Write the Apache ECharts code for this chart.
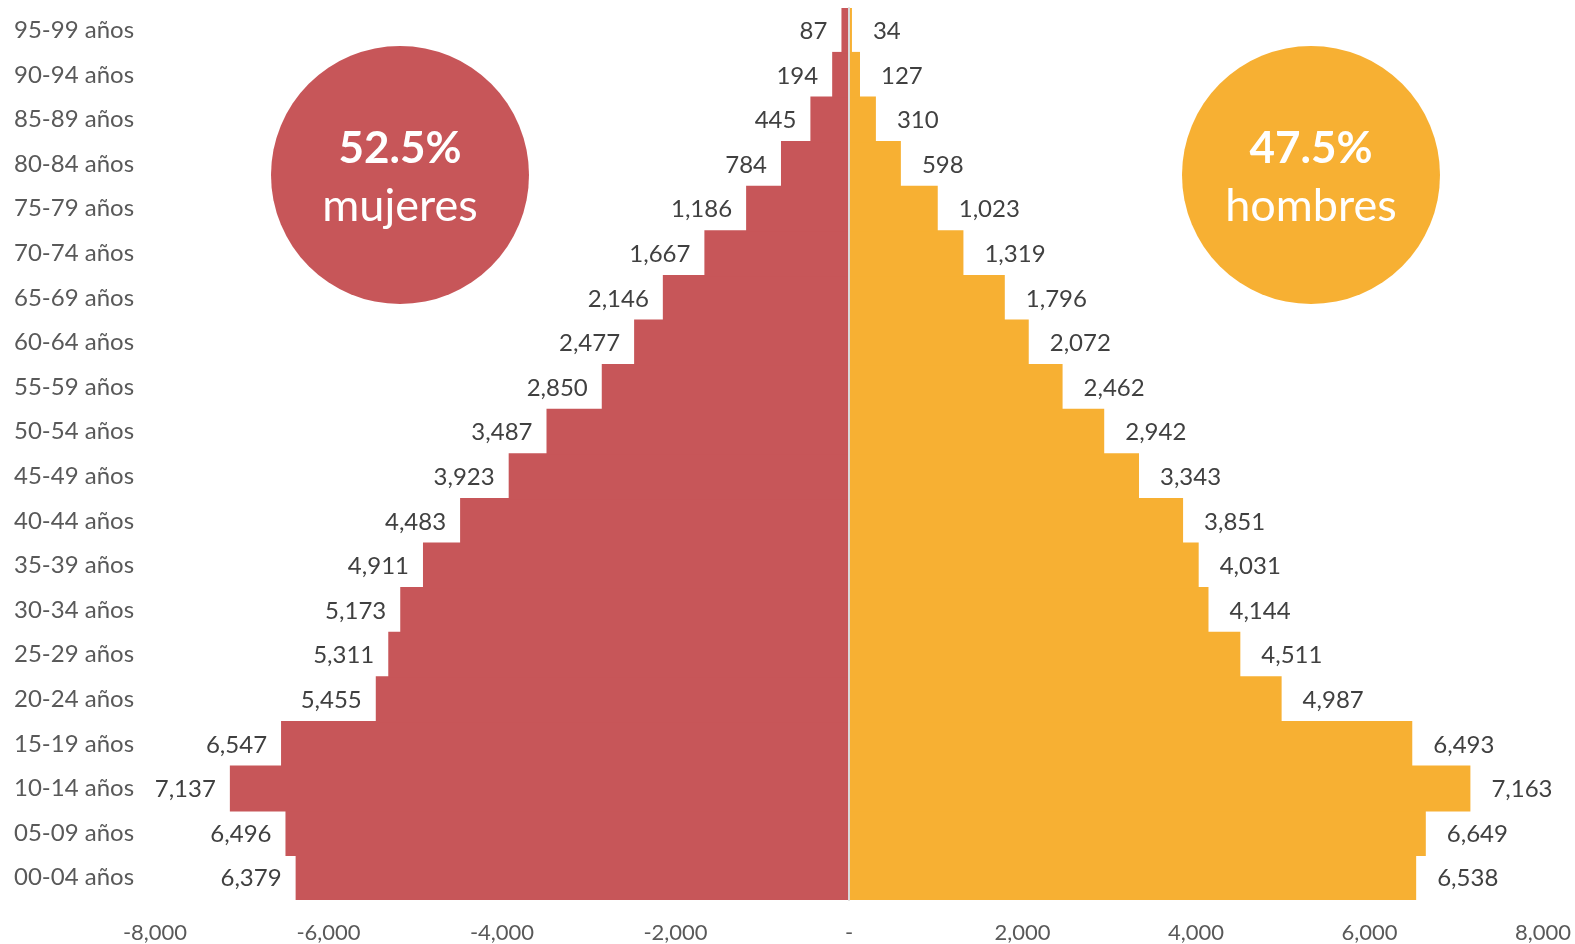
<!DOCTYPE html>
<html>
<head>
<meta charset="utf-8">
<script src="https://cdn.jsdelivr.net/npm/echarts@6/dist/echarts.min.js"></script>
<style>
  html, body { margin: 0; padding: 0; background: #fff; }
  #pyramid { width: 1575px; height: 944px; }
</style>
</head>
<body>
<div id="pyramid"></div>
<script>
// grupos de edad, de abajo hacia arriba
var ageGroups = ['00-04 años', '05-09 años', '10-14 años', '15-19 años', '20-24 años',
  '25-29 años', '30-34 años', '35-39 años', '40-44 años', '45-49 años',
  '50-54 años', '55-59 años', '60-64 años', '65-69 años', '70-74 años',
  '75-79 años', '80-84 años', '85-89 años', '90-94 años', '95-99 años'];
var mujeres = [6379, 6496, 7137, 6547, 5455, 5311, 5173, 4911, 4483, 3923,
  3487, 2850, 2477, 2146, 1667, 1186, 784, 445, 194, 87];
var hombres = [6538, 6649, 7163, 6493, 4987, 4511, 4144, 4031, 3851, 3343,
  2942, 2462, 2072, 1796, 1319, 1023, 598, 310, 127, 34];
var shareLabels = ['52.5%', '47.5%'];
var shareNames = ['mujeres', 'hombres'];

var red = '#C75659';
var orange = '#F7B033';
var font = 'Lato';

function fmt(v) {
  v = Math.abs(v);
  if (v === 0) return '-';
  return v.toString().replace(/\B(?=(\d{3})+(?!\d))/g, ',');
}

var chart = echarts.init(document.getElementById('pyramid'));

function bubble(cx, label, name, color) {
  return {
    type: 'group',
    children: [
      { type: 'circle', shape: { cx: cx, cy: 175, r: 129 }, style: { fill: color } },
      { type: 'text', x: cx, y: 149, style: { text: label, fill: '#fff', font: 'bold 44px ' + font, align: 'center', verticalAlign: 'middle' } },
      { type: 'text', x: cx, y: 206, style: { text: name, fill: '#fff', font: '45px ' + font, align: 'center', verticalAlign: 'middle' } }
    ]
  };
}

var option = {
  backgroundColor: '#fff',
  animation: false,
  textStyle: { fontFamily: font },
  grid: { left: 155, right: 32, top: 8, bottom: 44 },
  xAxis: {
    type: 'value',
    min: -8000,
    max: 8000,
    interval: 2000,
    axisLine: { show: false },
    axisTick: { show: false },
    splitLine: { show: false },
    axisLabel: { formatter: function (v) { return v === 0 ? '-' : (v < 0 ? '-' : '') + fmt(v); }, color: '#595959', fontSize: 22, margin: 22 }
  },
  yAxis: {
    type: 'category',
    data: ageGroups,
    axisTick: { show: false },
    axisLine: { onZero: true, lineStyle: { color: '#D9D9D9', width: 2 } },
    z: 5,
    axisLabel: { align: 'left', margin: 141, color: '#595959', fontSize: 24 }
  },
  series: [
    {
      name: 'mujeres',
      type: 'bar',
      barGap: '-100%',
      barWidth: 46,
      data: mujeres.map(function (v) { return -v; }),
      itemStyle: { color: red },
      label: { show: true, position: 'left', distance: 14, offset: [0, 1], color: '#404040', fontSize: 24, formatter: function (p) { return fmt(p.value); } }
    },
    {
      name: 'hombres',
      type: 'bar',
      barWidth: 46,
      data: hombres,
      itemStyle: { color: orange },
      label: { show: true, position: 'right', distance: 21, offset: [0, 1], color: '#404040', fontSize: 24, formatter: function (p) { return fmt(p.value); } }
    }
  ],
  graphic: [
    bubble(400, shareLabels[0], shareNames[0], red),
    bubble(1311, shareLabels[1], shareNames[1], orange)
  ]
};
chart.setOption(option);
</script>
</body>
</html>
